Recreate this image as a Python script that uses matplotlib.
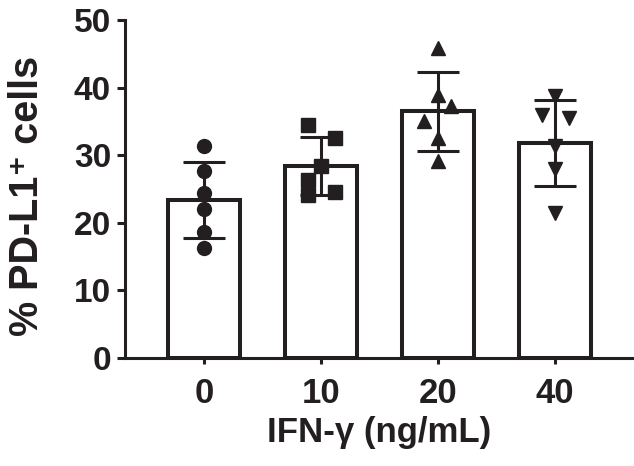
import numpy as np
import matplotlib
matplotlib.use("Agg")
import matplotlib.pyplot as plt

plt.rcParams['font.family'] = ['Liberation Sans', 'DejaVu Sans']
plt.rcParams['font.weight'] = 'bold'

# IFN-gamma dose groups and individual replicate values (% PD-L1+ cells)
doses = ['0', '10', '20', '40']
vals_0 = [31.4, 27.6, 24.4, 22.1, 18.7, 16.2]
vals_10 = [34.5, 32.5, 28.4, 26.3, 24.1, 24.5]
vals_20 = [45.9, 38.9, 37.3, 35.0, 32.6, 29.1]
vals_40 = [38.8, 36.0, 35.5, 31.3, 27.9, 21.4]
groups = [vals_0, vals_10, vals_20, vals_40]

markers = ['o', 's', '^', 'v']
# small horizontal spread of points (style only)
spread = [
    [0, 0, 0, 0, 0, 0],
    [-0.11, 0.12, 0, -0.11, -0.11, 0.12],
    [0, 0, 0.11, -0.12, 0, 0],
    [0, -0.11, 0.12, 0, 0, 0],
]

ink = '#231f20'
means = [np.mean(g) for g in groups]
sds = [np.std(g, ddof=1) for g in groups]
pos = np.arange(len(doses))

fig = plt.figure(figsize=(6.34, 4.66), dpi=100)
ax = fig.add_axes([125 / 634, 1 - 358 / 466, 1 - 125 / 634, (358 - 20) / 466])

ax.bar(pos, means, width=0.62, color='white', edgecolor=ink, linewidth=2.9, zorder=1)
ax.errorbar(pos, means, yerr=sds, fmt='none', ecolor=ink, elinewidth=2.2,
            capsize=15, capthick=2.2, zorder=2)
for i, g in enumerate(groups):
    ax.plot(pos[i] + np.array(spread[i]), g, linestyle='none', marker=markers[i],
            markersize=10, color=ink, zorder=3)

ax.set_xlim(-0.675, 3.675)
ax.set_ylim(0, 50)
ax.set_yticks([0, 10, 20, 30, 40, 50])
ax.set_xticks(pos)
ax.set_xticklabels(doses)

for s in ['top', 'right']:
    ax.spines[s].set_visible(False)
for s in ['left', 'bottom']:
    ax.spines[s].set_linewidth(2.2)
    ax.spines[s].set_color(ink)

ax.tick_params(axis='y', length=6, width=2.2, colors=ink, labelsize=24, pad=4)
ax.tick_params(axis='x', length=4, width=2.2, colors=ink, labelsize=25, pad=10)
ax.set_xlabel('IFN-γ (ng/mL)', fontsize=25, fontweight='bold', color=ink, labelpad=4)
ax.set_ylabel('% PD-L1⁺ cells', fontsize=28.5, fontweight='bold', color=ink)
ax.yaxis.set_label_coords(-0.155, 0.48)

fig.savefig('out.png', dpi=100)
